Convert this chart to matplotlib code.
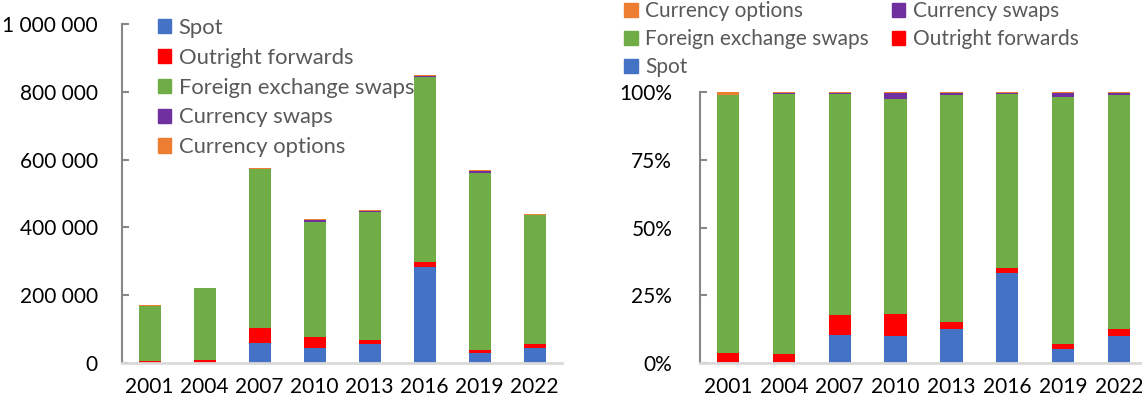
import numpy as np
import matplotlib
matplotlib.use("Agg")
import matplotlib.pyplot as plt
from matplotlib.patches import Patch
from matplotlib.ticker import FuncFormatter, PercentFormatter

plt.rcParams['font.family'] = ['Lato', 'DejaVu Sans']

years = ['2001', '2004', '2007', '2010', '2013', '2016', '2019', '2022']
spot = [500, 500, 59000, 43000, 57000, 283000, 29000, 44000]
outright_forwards = [6000, 7000, 44000, 34000, 11000, 15000, 10000, 12000]
fx_swaps = [162700, 212500, 469000, 337500, 378700, 547000, 521000, 379600]
currency_swaps = [300, 300, 800, 8500, 3000, 1000, 7000, 2200]
currency_options = [1800, 1000, 3000, 2000, 2300, 4000, 3000, 2200]

names = ['Spot', 'Outright forwards', 'Foreign exchange swaps', 'Currency swaps', 'Currency options']
colors = ['#4472C4', '#FF0000', '#70AD47', '#7030A0', '#ED7D31']
series = np.array([spot, outright_forwards, fx_swaps, currency_swaps, currency_options], dtype=float)
shares = series / series.sum(axis=0)

W, H = 1142, 407
fig = plt.figure(figsize=(W / 100, H / 100), dpi=100)
ax1 = fig.add_axes([122 / W, 44 / H, 440 / W, 339 / H])
ax2 = fig.add_axes([700 / W, 44 / H, 447 / W, 271 / H])

x = np.arange(len(years))


def stacked(ax, data):
    bottom = np.zeros(len(years))
    for vals, c, n in zip(data, colors, names):
        ax.bar(x, vals, 0.4, bottom=bottom, color=c, label=n, linewidth=0)
        bottom += vals


def style(ax, pad):
    ax.set_xlim(-0.5, len(years) - 0.5)
    ax.set_xticks(x, years)
    for s in ['top', 'right']:
        ax.spines[s].set_visible(False)
    ax.spines['left'].set_color('#878787')
    ax.spines['left'].set_linewidth(1.5)
    ax.spines['bottom'].set_color('#d9d9d9')
    ax.spines['bottom'].set_linewidth(2)
    ax.tick_params(axis='y', direction='in', length=5, width=1.5, color='#878787',
                   labelsize=15, pad=pad)
    ax.tick_params(axis='x', length=0, labelsize=15, pad=10)


stacked(ax1, series)
style(ax1, 17.5)
ax1.set_ylim(0, 1000000)
ax1.set_yticks(np.arange(0, 1000001, 200000))
ax1.yaxis.set_major_formatter(FuncFormatter(lambda v, p: f'{int(v):,}'.replace(',', ' ')))

stacked(ax2, shares)
style(ax2, 20)
ax2.set_ylim(0, 1)
ax2.set_yticks([0, 0.25, 0.5, 0.75, 1])
ax2.yaxis.set_major_formatter(PercentFormatter(1.0, decimals=0))

handles = [Patch(color=c) for c in colors]
ax1.legend(handles, names, loc='upper left', bbox_to_anchor=(149 / W, 1 - 9 / H),
           bbox_transform=fig.transFigure, frameon=False, fontsize=15.8,
           handlelength=0.62, handleheight=0.62, handletextpad=0.33,
           labelspacing=0.45, labelcolor='#595959', borderaxespad=0)

order = [4, 2, 0, 3, 1]
ax2.legend([handles[i] for i in order], [names[i] for i in order], ncol=2,
           loc='upper left', bbox_to_anchor=(616 / W, 1 + 7 / H),
           bbox_transform=fig.transFigure, frameon=False, fontsize=15,
           handlelength=0.65, handleheight=0.65, handletextpad=0.35,
           labelspacing=0.38, columnspacing=1.1, labelcolor='#595959', borderaxespad=0)

fig.savefig('out.png', dpi=100)
